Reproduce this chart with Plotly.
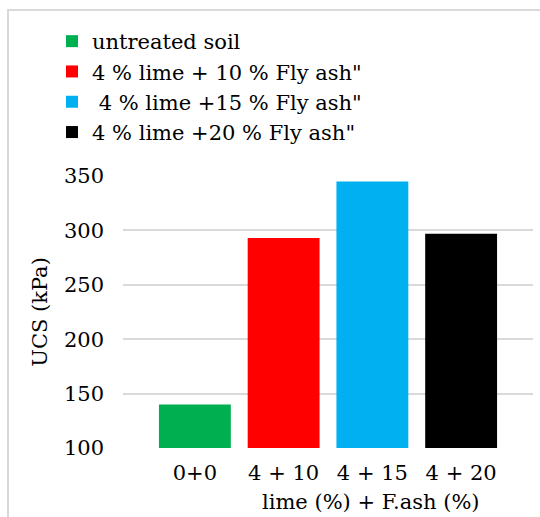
import plotly.graph_objects as go

categories = ["0+0", "4 + 10", "4 + 15", "4 + 20"]
series_names = ["untreated soil", "4 % lime + 10 % Fly ash\"", " 4 % lime +15 % Fly ash\"", "4 % lime +20 % Fly ash\""]
ucs_values = [140, 293, 345, 297]
colors = ["#00B050", "#FF0000", "#00B0F0", "#000000"]

FONT = "DejaVu Serif"
FS = 21

fig = go.Figure()
for cat, name, val, col in zip(categories, series_names, ucs_values, colors):
    fig.add_trace(go.Bar(
        x=[cat], y=[val], name=name, marker=dict(color=col, line=dict(width=0)),
        width=0.81,
    ))

L, R, T, B = 123, 7, 176, 69
W, H = 540, 517
pw = W - L - R
ph = H - T - B

fig.update_layout(
    width=W, height=H,
    margin=dict(l=L, r=R, t=T, b=B),
    paper_bgcolor="white", plot_bgcolor="white",
    font=dict(family=FONT, size=FS, color="#000000"),
    barmode="overlay",
    showlegend=True,
    legend=dict(
        x=(52 - L) / pw, xanchor="left",
        y=1 + (T - 21) / ph, yanchor="top",
        font=dict(family=FONT, size=FS, color="#000000"),
        bgcolor="rgba(0,0,0,0)", borderwidth=0,
        itemwidth=30, traceorder="normal",
    ),
    xaxis=dict(
        type="category", categoryorder="array", categoryarray=categories,
        range=[-0.81, 3.81], showgrid=False, zeroline=False,
        showline=False, ticks="", tickfont=dict(family=FONT, size=FS),
        ticklabelstandoff=10,
    ),
    yaxis=dict(
        range=[100, 350], tickvals=[100, 150, 200, 250, 300, 350],
        showgrid=True, gridcolor="#D9D9D9", gridwidth=2, zeroline=False,
        showline=False, ticks="", tickfont=dict(family=FONT, size=FS),
        ticklabelstandoff=18,
        title=dict(text="UCS (kPa)", font=dict(family=FONT, size=FS), standoff=10),
    ),
    annotations=[dict(
        text="lime (%) + F.ash (%)", xref="paper", yref="paper",
        x=(371 - L) / pw, y=-(502 - (T + ph)) / ph, xanchor="center", yanchor="middle",
        showarrow=False, font=dict(family=FONT, size=FS),
    )],
    shapes=[dict(
        type="path", xref="paper", yref="paper",
        path=f"M {(8 - L) / pw} {-(H + 5 - T - ph) / ph} L {(8 - L) / pw} {1 + (T - 10) / ph} L {(W + 5 - L) / pw} {1 + (T - 10) / ph}",
        line=dict(color="#D9D9D9", width=2), layer="below",
    )],
)

fig.write_html("out.html")
